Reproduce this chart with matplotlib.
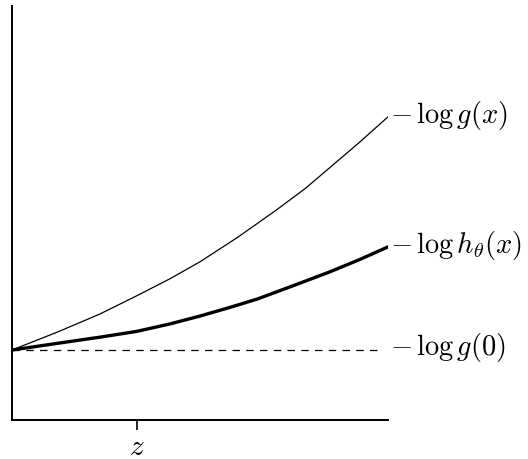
import matplotlib
matplotlib.use("Agg")
import matplotlib.pyplot as plt

plt.rcParams["mathtext.fontset"] = "cm"

# curves (x and y in axis fractions)
x_g = [0.0, 0.12, 0.234, 0.332, 0.42, 0.5, 0.6, 0.7, 0.78, 0.846, 0.926, 1.0]
y_g = [0.169, 0.212, 0.256, 0.300, 0.341, 0.382, 0.441, 0.505, 0.559, 0.610, 0.672, 0.732]

x_h = [0.0, 0.12, 0.234, 0.332, 0.42, 0.5, 0.58, 0.652, 0.75, 0.846, 0.926, 1.0]
y_h = [0.169, 0.185, 0.200, 0.214, 0.232, 0.251, 0.272, 0.292, 0.325, 0.358, 0.388, 0.418]

x_base = [0.0, 0.984]
y_base = [0.169, 0.169]

z_pos = 0.332

labels = [r"$-\,\log g(x)$", r"$-\,\log h_\theta(x)$", r"$-\,\log g(0)$"]
label_y = [0.738, 0.425, 0.178]

fig = plt.figure(figsize=(5.28, 4.6), dpi=100)
ax = fig.add_axes([0.0227, 0.0848, 0.7121, 0.9002])

ax.plot(x_g, y_g, color="black", lw=0.9)
ax.plot(x_h, y_h, color="black", lw=2.4)
ax.plot(x_base, y_base, color="black", lw=0.9, dashes=(6, 5))

for lab, ly in zip(labels, label_y):
    ax.text(1.005, ly, lab, fontsize=20.5, va="center", ha="left", clip_on=False)

ax.set_xlim(0, 1)
ax.set_ylim(0, 1)
ax.spines["top"].set_visible(False)
ax.spines["right"].set_visible(False)
ax.spines["left"].set_linewidth(1.4)
ax.spines["bottom"].set_linewidth(1.4)
ax.set_yticks([])
ax.set_xticks([z_pos])
ax.set_xticklabels([r"$z$"], fontsize=21)
ax.tick_params(axis="x", length=7, width=1.2, pad=2)

plt.savefig("out.png")
plt.close()
